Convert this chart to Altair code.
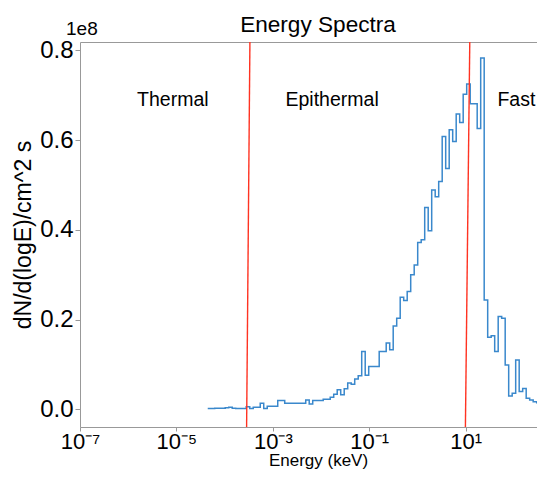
import altair as alt
import numpy as np
import pandas as pd

FONT = "Liberation Sans"
BLUE = "#3a88cc"
RED = "#ff3322"

# Log-spaced histogram bins (decades) and step-histogram heights (units of 1e8)
BIN_LOG_START = -4.35
BIN_LOG_WIDTH = 0.0726
flux = [
    0.002, 0.002, 0.003, 0.003, 0.003, 0.004, 0.005, 0.003, 0.002, 0.002,
    0.002, 0.006, 0.002, 0.005, 0.005, 0.014, 0.002, 0.007, 0.007, 0.007,
    0.020, 0.020, 0.014, 0.014, 0.014, 0.014, 0.014, 0.014, 0.021, 0.012,
    0.020, 0.020, 0.020, 0.023, 0.023, 0.027, 0.034, 0.044, 0.033, 0.046,
    0.059, 0.056, 0.068, 0.075, 0.129, 0.076, 0.096, 0.096, 0.096, 0.129,
    0.129, 0.148, 0.133, 0.186, 0.203, 0.250, 0.243, 0.263, 0.300, 0.322,
    0.372, 0.378, 0.450, 0.398, 0.489, 0.474, 0.508, 0.608, 0.537, 0.623,
    0.597, 0.658, 0.639, 0.702, 0.725, 0.681, 0.681, 0.626, 0.783, 0.244,
    0.161, 0.164, 0.129, 0.207, 0.203, 0.099, 0.030, 0.036, 0.110, 0.040,
    0.047, 0.025, 0.021, 0.017, 0.015, 0.010, 0.032, 0.030,
]

# Region boundaries (red lines): energy at bottom and at top of the axes
bound_bottom = [2.86e-4, 9.9]
bound_top = [3.35e-4, 12.2]

# Region labels
region_names = ["Thermal", "Epithermal", "Fast"]
region_energy = [8.45e-6, 1.7e-2, 113.0]
region_level = [0.676, 0.676, 0.676]

x_tick_exps = [-7, -5, -3, -1, 1]
y_ticks = [0.0, 0.2, 0.4, 0.6, 0.8]
PLOT_W, PLOT_H = 457, 385
X_DOMAIN = [1e-7, 10 ** 2.481]
Y_DOMAIN = [-0.039, 0.8185]

SUP = {"-": "\u207b", "0": "\u2070", "1": "\u00b9", "2": "\u00b2", "3": "\u00b3",
       "4": "\u2074", "5": "\u2075", "6": "\u2076", "7": "\u2077", "8": "\u2078", "9": "\u2079"}


def sup(n):
    return "".join(SUP[c] for c in str(n))


label_expr = ""
for e in x_tick_exps:
    label_expr += f"abs(log(datum.value)/LN10 - ({e})) < 0.01 ? '10{sup(e)}' : "
label_expr += "''"

edges = 10 ** (BIN_LOG_START + BIN_LOG_WIDTH * np.arange(len(flux) + 1))
step_df = pd.DataFrame({"energy": edges, "flux": flux + [flux[-1]]})
bound_df = pd.DataFrame({"lo": bound_bottom, "hi": bound_top,
                         "ymin": [Y_DOMAIN[0]] * 2, "ymax": [Y_DOMAIN[1]] * 2})
label_df = pd.DataFrame({"energy": region_energy, "flux": region_level, "name": region_names})
exp_df = pd.DataFrame({"t": ["1e8"]})
title_df = pd.DataFrame({"t": ["Energy Spectra"]})

xscale = alt.Scale(type="log", domain=X_DOMAIN, nice=False)
yscale = alt.Scale(domain=Y_DOMAIN, nice=False, zero=False)

xaxis = alt.Axis(values=[10.0 ** e for e in x_tick_exps], labelExpr=label_expr,
                 title="Energy (keV)", labelFontSize=22, titleFontSize=17,
                 tickSize=4, labelPadding=0, labelFlush=False, labelOverlap=False,
                 titleX=238, titleY=38.5, titleBaseline="alphabetic", titleAlign="center")
yaxis = alt.Axis(values=y_ticks, format=".1f", title="dN/d(logE)/cm^2 s",
                 labelFontSize=24, titleFontSize=23, labelPadding=2, titlePadding=4)

step = alt.Chart(step_df).mark_line(
    interpolate="step-after", color=BLUE, strokeWidth=1.5, clip=True
).encode(
    x=alt.X("energy:Q", scale=xscale, axis=xaxis),
    y=alt.Y("flux:Q", scale=yscale, axis=yaxis),
)

rules = alt.Chart(bound_df).mark_rule(color=RED, strokeWidth=1.4, clip=True).encode(
    x=alt.X("lo:Q", scale=xscale),
    x2="hi:Q",
    y=alt.Y("ymin:Q", scale=yscale),
    y2="ymax:Q",
)

labels = alt.Chart(label_df).mark_text(
    font=FONT, fontSize=19.5, align="center", baseline="alphabetic", color="black"
).encode(
    x=alt.X("energy:Q", scale=xscale),
    y=alt.Y("flux:Q", scale=yscale),
    text="name:N",
)

offset_text = alt.Chart(exp_df).mark_text(
    font=FONT, fontSize=19, align="left", baseline="alphabetic", color="black"
).encode(x=alt.value(-14), y=alt.value(-7), text="t:N")

title_text = alt.Chart(title_df).mark_text(
    font=FONT, fontSize=22.6, align="center", baseline="alphabetic", color="black"
).encode(x=alt.value(238), y=alt.value(-10), text="t:N")

chart = alt.layer(step, rules, labels, offset_text, title_text).properties(
    width=PLOT_W,
    height=PLOT_H,
    autosize=alt.AutoSizeParams(type="none"),
    padding={"left": 72, "top": 34, "right": 0, "bottom": 42},
).configure_view(
    stroke="#999", strokeWidth=1
).configure_axis(
    domain=False, grid=False, tickColor="#999", tickSize=5, tickWidth=1,
    labelFont=FONT, titleFont=FONT, labelColor="black", titleColor="black",
    titleFontWeight="normal",
)

chart.save("out.html", embed_options={"renderer": "svg", "actions": False})
